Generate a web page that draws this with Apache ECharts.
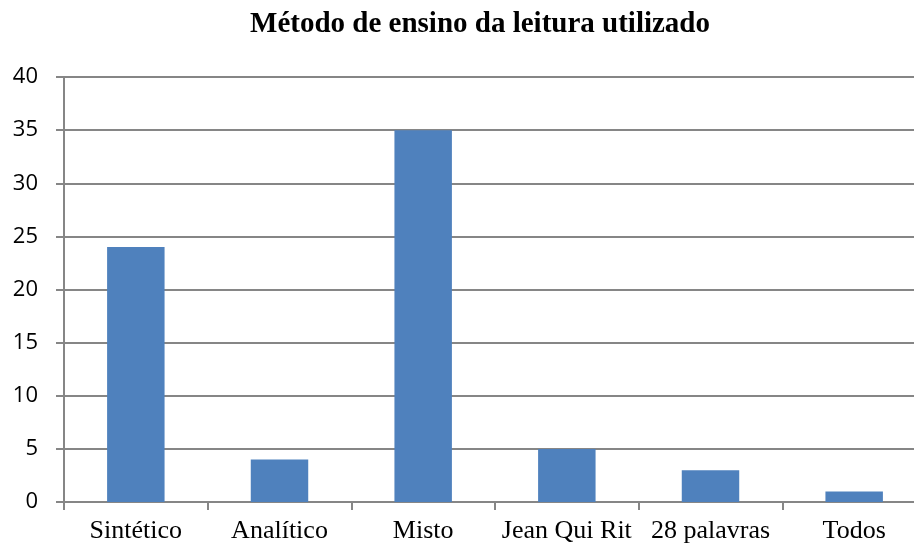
<!DOCTYPE html>
<html>
<head>
<meta charset="utf-8">
<script src="https://cdn.jsdelivr.net/npm/echarts@6/dist/echarts.min.js"></script>
<style>
  html, body { margin: 0; padding: 0; background: #fff; }
  #chart { width: 914px; height: 547px; }
</style>
</head>
<body>
<div id="chart"></div>
<script>
  var titulo = 'Método de ensino da leitura utilizado';
  var metodos = ['Sintético', 'Analítico', 'Misto', 'Jean Qui Rit', '28 palavras', 'Todos'];
  var valores = [24, 4, 35, 5, 3, 1];

  var myChart = echarts.init(document.getElementById('chart'));
  var option = {
    animation: false,
    title: {
      text: titulo,
      left: 475,
      textAlign: 'center',
      top: 5,
      textStyle: { fontFamily: 'Liberation Serif', fontWeight: 'bold', fontSize: 29, color: '#000' }
    },
    // o gráfico original é cortado à direita
    grid: { left: 64, width: 862, top: 77, bottom: 45, containLabel: false, outerBoundsMode: 'none' },
    xAxis: {
      type: 'category',
      data: metodos,
      axisLine: { lineStyle: { color: '#868686', width: 2 } },
      axisTick: { show: true, length: 8, lineStyle: { color: '#868686', width: 2 } },
      axisLabel: { interval: 0, fontFamily: 'Liberation Serif', fontSize: 26, color: '#000', margin: 16 }
    },
    yAxis: {
      type: 'value',
      min: 0,
      max: 40,
      interval: 5,
      axisLine: { show: true, lineStyle: { color: '#868686', width: 2 } },
      axisTick: { show: true, length: 8, lineStyle: { color: '#868686', width: 2 } },
      splitLine: { lineStyle: { color: '#868686', width: 2 } },
      axisLabel: { fontFamily: 'Open Sans', fontSize: 22, color: '#000', margin: 26 }
    },
    series: [{
      type: 'bar',
      data: valores,
      barWidth: '40%',
      itemStyle: { color: '#4F81BD' }
    }]
  };
  myChart.setOption(option);
</script>
</body>
</html>
